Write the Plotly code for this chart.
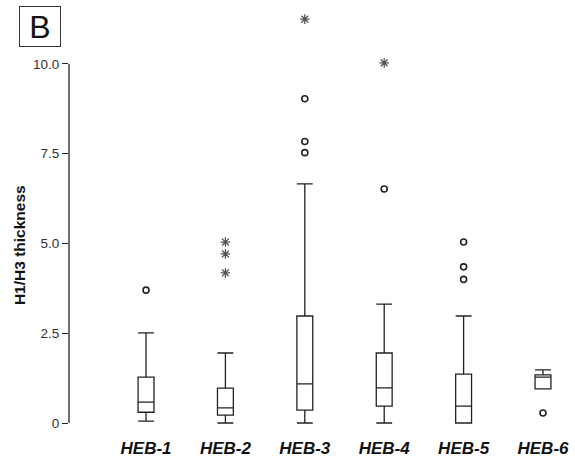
import plotly.graph_objects as go

categories = ["HEB-1", "HEB-2", "HEB-3", "HEB-4", "HEB-5", "HEB-6"]
lower_whisker = [0.05, 0.00, 0.00, 0.00, 0.00, 0.95]
q1_vals = [0.30, 0.22, 0.36, 0.47, 0.00, 0.95]
medians = [0.58, 0.42, 1.09, 0.98, 0.47, 1.28]
q3_vals = [1.28, 0.97, 2.98, 1.95, 1.36, 1.34]
upper_whisker = [2.51, 1.95, 6.66, 3.31, 2.98, 1.48]
# outliers (circles) and extremes (asterisks)
circle_cat = ["HEB-1", "HEB-3", "HEB-3", "HEB-3", "HEB-4", "HEB-5", "HEB-5", "HEB-5", "HEB-6"]
circle_val = [3.70, 9.03, 7.84, 7.53, 6.52, 5.04, 4.35, 4.00, 0.28]
star_cat = ["HEB-2", "HEB-2", "HEB-2", "HEB-3", "HEB-4"]
star_val = [5.04, 4.71, 4.18, 11.25, 10.03]
y_tickvals = [0, 2.5, 5.0, 7.5, 10.0]
y_ticktext = ["0", "2.5", "5.0", "7.5", "10.0"]

pos = {c: i + 1 for i, c in enumerate(categories)}
ink = "#222222"

fig = go.Figure()
for i, c in enumerate(categories):
    fig.add_trace(go.Box(
        x=[pos[c]], q1=[q1_vals[i]], median=[medians[i]], q3=[q3_vals[i]],
        lowerfence=[lower_whisker[i]], upperfence=[upper_whisker[i]],
        width=0.2, whiskerwidth=1, boxpoints=False,
        fillcolor="white", line=dict(color=ink, width=1.3),
        showlegend=False, hoverinfo="skip",
    ))

fig.add_trace(go.Scatter(
    x=[pos[c] for c in circle_cat], y=circle_val, mode="markers",
    marker=dict(symbol="circle-open", size=6, color=ink, line=dict(width=1.6)),
    showlegend=False,
))
fig.add_trace(go.Scatter(
    x=[pos[c] for c in star_cat], y=star_val, mode="markers",
    marker=dict(symbol="asterisk-open", size=8, color="#555555", line=dict(width=1.3, color="#555555")),
    showlegend=False,
))

fig.update_layout(
    width=575, height=466,
    margin=dict(l=69, r=0, t=10, b=36),
    plot_bgcolor="white", paper_bgcolor="white",
    font=dict(family="Liberation Sans, Arial, sans-serif", color=ink),
    xaxis=dict(
        range=[0.030, 6.403], showgrid=False, zeroline=False, showline=False,
        tickvals=[pos[c] for c in categories],
        ticktext=["<b><i>%s</i></b>" % c for c in categories],
        tickfont=dict(size=17, color="#111111"), ticks="",
        ticklabelstandoff=6,
    ),
    yaxis=dict(
        range=[-0.195, 11.504], showgrid=False, zeroline=False, showline=False,
        tickvals=y_tickvals, ticktext=y_ticktext,
        ticks="outside", ticklen=6, tickwidth=1.2, tickcolor=ink,
        tickfont=dict(size=13.5, color="#333333"),
    ),
    shapes=[dict(type="line", xref="paper", yref="y", x0=0, x1=0, y0=0, y1=10,
                 line=dict(color=ink, width=1.3))],
    annotations=[
        dict(text="<b>H1/H3 thickness</b>", xref="paper", yref="paper",
             x=-0.099, y=0.44, textangle=-90, showarrow=False,
             xanchor="center", yanchor="middle",
             font=dict(size=15.5, color="#111111")),
        dict(text="B", xref="paper", yref="paper", x=-0.0988, y=1.0095,
             xanchor="left", yanchor="top", showarrow=False,
             width=38, height=37, align="center", valign="middle",
             font=dict(size=32, color="#111111"), bordercolor="#333333",
             borderwidth=1, borderpad=1, bgcolor="white"),
    ],
)

fig.write_html("out.html", config={"displayModeBar": False},
               post_script="document.body.style.margin='0px';")
